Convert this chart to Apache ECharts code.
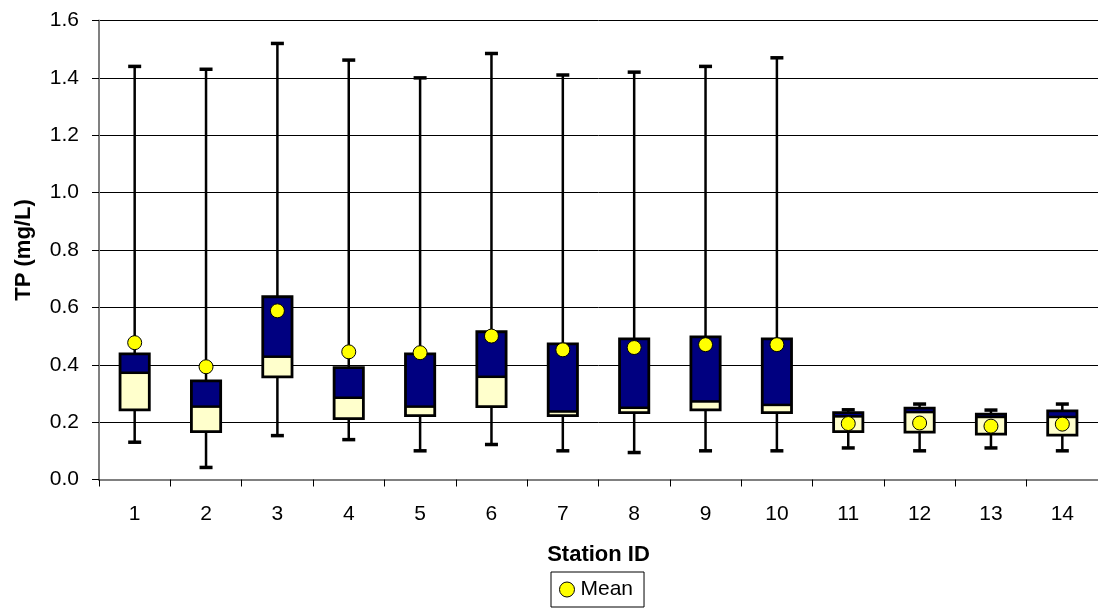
<!DOCTYPE html>
<html>
<head>
<meta charset="utf-8">
<script src="https://cdn.jsdelivr.net/npm/echarts@6/dist/echarts.min.js"></script>
<style>html,body{margin:0;padding:0;background:#fff}#c{width:1098px;height:612px}</style>
</head>
<body>
<div id="c"></div>
<script>
const stations = ['1','2','3','4','5','6','7','8','9','10','11','12','13','14'];
const minV  = [0.13, 0.042, 0.153, 0.139, 0.10, 0.122, 0.10, 0.094, 0.10, 0.10, 0.11, 0.10, 0.11, 0.10];
const q1V   = [0.243, 0.167, 0.358, 0.212, 0.223, 0.254, 0.223, 0.233, 0.243, 0.233, 0.167, 0.165, 0.158, 0.155];
const medV  = [0.372, 0.254, 0.428, 0.285, 0.254, 0.358, 0.237, 0.25, 0.272, 0.26, 0.22, 0.235, 0.218, 0.218];
const q3V   = [0.438, 0.344, 0.637, 0.39, 0.438, 0.515, 0.473, 0.49, 0.497, 0.49, 0.233, 0.249, 0.228, 0.239];
const maxV  = [1.44, 1.43, 1.52, 1.462, 1.40, 1.485, 1.41, 1.42, 1.44, 1.47, 0.243, 0.263, 0.242, 0.263];
const meanV = [0.477, 0.393, 0.588, 0.445, 0.442, 0.50, 0.452, 0.46, 0.47, 0.47, 0.195, 0.197, 0.186, 0.193];
const yTicks = ['0.0','0.2','0.4','0.6','0.8','1.0','1.2','1.4','1.6'];

const boxData = stations.map((s, i) => [i, minV[i], q1V[i], medV[i], q3V[i], maxV[i]]);
const meanData = stations.map((s, i) => [i, meanV[i]]);

const FONT = 'Liberation Sans, Arial, sans-serif';
const chart = echarts.init(document.getElementById('c'), null, {renderer: 'canvas'});

function renderBox(params, api) {
  const x = api.value(0);
  const pMin = api.coord([x, api.value(1)]);
  const pQ1 = api.coord([x, api.value(2)]);
  const pMed = api.coord([x, api.value(3)]);
  const pQ3 = api.coord([x, api.value(4)]);
  const pMax = api.coord([x, api.value(5)]);
  const cx = pMin[0];
  const bw = api.size([1, 0])[0] * 0.41;
  const capW = 13;
  const children = [
    {type: 'line', shape: {x1: cx, y1: pMin[1], x2: cx, y2: pMax[1]}, style: {stroke: '#000', lineWidth: 2.5}},
    {type: 'line', shape: {x1: cx - capW / 2, y1: pMin[1], x2: cx + capW / 2, y2: pMin[1]}, style: {stroke: '#000', lineWidth: 3.5}},
    {type: 'line', shape: {x1: cx - capW / 2, y1: pMax[1], x2: cx + capW / 2, y2: pMax[1]}, style: {stroke: '#000', lineWidth: 3.5}},
    {type: 'rect', shape: {x: cx - bw / 2, y: pMed[1], width: bw, height: pQ1[1] - pMed[1]}, style: {fill: '#FFFFCC', stroke: null}},
    {type: 'rect', shape: {x: cx - bw / 2, y: pQ3[1], width: bw, height: pMed[1] - pQ3[1]}, style: {fill: '#000080', stroke: null}},
    {type: 'line', shape: {x1: cx - bw / 2, y1: pMed[1], x2: cx + bw / 2, y2: pMed[1]}, style: {stroke: '#000', lineWidth: 2.5}},
    {type: 'rect', shape: {x: cx - bw / 2, y: pQ3[1], width: bw, height: pQ1[1] - pQ3[1]}, style: {fill: null, stroke: '#000', lineWidth: 2.8}}
  ];
  return {type: 'group', children};
}

chart.setOption({
  animation: false,
  backgroundColor: '#fff',
  grid: {left: 99, top: 20.5, width: 1003, height: 459, containLabel: false},
  xAxis: {
    type: 'category',
    data: stations,
    boundaryGap: true,
    name: 'Station ID',
    nameLocation: 'middle',
    nameGap: 64,
    nameTextStyle: {fontFamily: FONT, fontSize: 22, fontWeight: 'bold', color: '#000'},
    axisLine: {lineStyle: {color: '#808080', width: 2}},
    axisTick: {show: true, alignWithLabel: false, length: 7, lineStyle: {color: '#000', width: 1}},
    axisLabel: {fontFamily: FONT, fontSize: 21, color: '#000', margin: 24},
    splitLine: {show: false}
  },
  yAxis: {
    type: 'value',
    min: 0, max: 1.6, interval: 0.2,
    name: 'TP (mg/L)',
    nameLocation: 'middle',
    nameGap: 64,
    nameRotate: 90,
    nameTextStyle: {fontFamily: FONT, fontSize: 22, fontWeight: 'bold', color: '#000'},
    axisLine: {show: true, lineStyle: {color: '#808080', width: 2}},
    axisTick: {show: true, length: 7, lineStyle: {color: '#000', width: 1}},
    axisLabel: {fontFamily: FONT, fontSize: 21, color: '#000', margin: 20,
      formatter: (v) => yTicks[Math.round(v / 0.2)] ?? v.toFixed(1)},
    splitLine: {show: true, lineStyle: {color: '#000', width: 1}}
  },
  legend: {
    left: 551, top: 572,
    orient: 'horizontal',
    borderColor: '#000', borderWidth: 1, borderRadius: 0,
    padding: [7, 11, 7, 8],
    itemWidth: 15, itemHeight: 15, itemGap: 5,
    textStyle: {fontFamily: FONT, fontSize: 21, color: '#000', padding: [0, 0, 0, 1]},
    data: [{name: 'Mean', icon: 'circle', itemStyle: {color: '#FFFF00', borderColor: '#000', borderWidth: 1}}]
  },
  series: [
    {
      type: 'custom',
      name: 'Box',
      renderItem: renderBox,
      encode: {x: 0, y: [1, 2, 3, 4, 5]},
      data: boxData,
      z: 2
    },
    {
      type: 'scatter',
      name: 'Mean',
      data: meanData,
      symbol: 'circle',
      symbolSize: 14,
      itemStyle: {color: '#FFFF00', borderColor: '#000', borderWidth: 1, opacity: 1},
      z: 5
    }
  ]
});
</script>
</body>
</html>
